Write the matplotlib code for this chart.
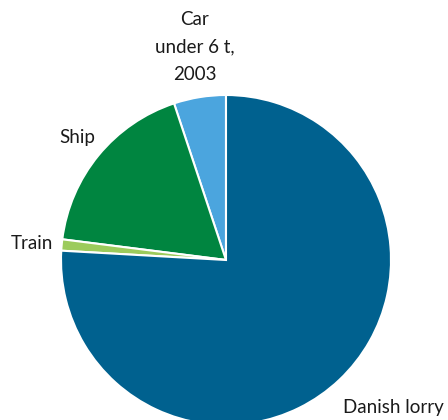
import matplotlib.pyplot as plt

labels = ["Car\nunder 6 t,\n2003", "Ship", "Train", "Danish lorry"]
shares = [5.1, 17.9, 1.1, 75.9]
colors = ["#4ba5de", "#008540", "#9ccb5c", "#00618f"]

fig = plt.figure(figsize=(4.48, 4.2), dpi=100)
ax = fig.add_axes([0, 0, 1, 1])
ax.pie(shares, colors=colors, startangle=90, counterclock=True, radius=1,
       wedgeprops=dict(edgecolor="white", linewidth=1.5))
ax.set_xlim(-226 / 165, 222 / 165)
ax.set_ylim(-160 / 165, 260 / 165)
ax.set_aspect("auto")
ax.axis("off")

font = dict(family=["Lato", "DejaVu Sans"], fontsize=13.5, color="#1a1a1a")
pos = [(-0.188, 1.291), (-0.90, 0.745), (-1.176, 0.097), (1.012, -0.891)]
for lab, (x, y) in zip(labels, pos):
    ax.text(x, y, lab, ha="center", va="center", linespacing=1.75, **font)

fig.savefig("out.png", dpi=100)
